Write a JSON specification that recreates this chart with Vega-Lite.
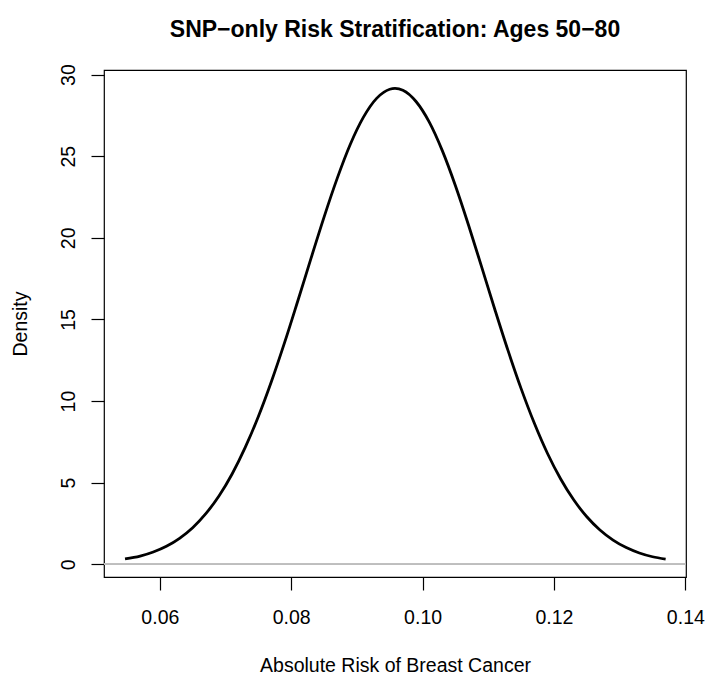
{
  "$schema": "https://vega.github.io/schema/vega-lite/v6.json",
  "autosize": {"type": "none"},
  "padding": {"left": 104, "top": 70, "right": 20, "bottom": 98},
  "width": 582,
  "height": 507,
  "background": "white",
  "title": {
    "text": "SNP−only Risk Stratification: Ages 50−80",
    "font": "Liberation Sans",
    "fontSize": 23,
    "fontWeight": "bold",
    "color": "black",
    "anchor": "middle",
    "frame": "group",
    "baseline": "alphabetic",
    "offset": 4
  },
  "config": {
    "view": {"stroke": "black", "strokeWidth": 1.2},
    "axis": {
      "grid": false,
      "domain": false,
      "tickColor": "black",
      "tickWidth": 1.2,
      "tickSize": 13,
      "labelFont": "Liberation Sans",
      "labelFontSize": 19.5,
      "labelColor": "black",
      "labelFlush": false,
      "labelOverlap": false,
      "labelBound": false,
      "titleFont": "Liberation Sans",
      "titleFontSize": 19.5,
      "titleFontWeight": "normal",
      "titleColor": "black"
    }
  },
  "data": {
    "values": [
      {"risk": 0.0547, "density": 0.33},
      {"risk": 0.057, "density": 0.50},
      {"risk": 0.059, "density": 0.75},
      {"risk": 0.061, "density": 1.10},
      {"risk": 0.063, "density": 1.59},
      {"risk": 0.065, "density": 2.24},
      {"risk": 0.067, "density": 3.10},
      {"risk": 0.069, "density": 4.18},
      {"risk": 0.071, "density": 5.53},
      {"risk": 0.073, "density": 7.16},
      {"risk": 0.075, "density": 9.05},
      {"risk": 0.077, "density": 11.21},
      {"risk": 0.079, "density": 13.59},
      {"risk": 0.081, "density": 16.13},
      {"risk": 0.083, "density": 18.72},
      {"risk": 0.085, "density": 21.27},
      {"risk": 0.087, "density": 23.64},
      {"risk": 0.089, "density": 25.73},
      {"risk": 0.091, "density": 27.39},
      {"risk": 0.093, "density": 28.54},
      {"risk": 0.095, "density": 29.10},
      {"risk": 0.0958, "density": 29.15},
      {"risk": 0.097, "density": 29.04},
      {"risk": 0.099, "density": 28.35},
      {"risk": 0.101, "density": 27.10},
      {"risk": 0.103, "density": 25.34},
      {"risk": 0.105, "density": 23.19},
      {"risk": 0.107, "density": 20.77},
      {"risk": 0.109, "density": 18.20},
      {"risk": 0.111, "density": 15.61},
      {"risk": 0.113, "density": 13.10},
      {"risk": 0.115, "density": 10.76},
      {"risk": 0.117, "density": 8.65},
      {"risk": 0.119, "density": 6.80},
      {"risk": 0.121, "density": 5.24},
      {"risk": 0.123, "density": 3.95},
      {"risk": 0.125, "density": 2.91},
      {"risk": 0.127, "density": 2.10},
      {"risk": 0.129, "density": 1.48},
      {"risk": 0.131, "density": 1.02},
      {"risk": 0.133, "density": 0.69},
      {"risk": 0.135, "density": 0.46},
      {"risk": 0.137, "density": 0.32}
    ]
  },
  "encoding": {
    "x": {
      "field": "risk",
      "type": "quantitative",
      "scale": {"domain": [0.0515, 0.1401], "nice": false, "zero": false},
      "axis": {
        "values": [0.06, 0.08, 0.10, 0.12, 0.14],
        "format": ".2f",
        "labelBaseline": "alphabetic",
        "labelPadding": 33,
        "title": "Absolute Risk of Breast Cancer",
        "titleBaseline": "alphabetic",
        "titleAnchor": "middle",
        "titleX": 291,
        "titleY": 94
      }
    },
    "y": {
      "field": "density",
      "type": "quantitative",
      "scale": {"domain": [-0.78, 30.28], "nice": false, "zero": false},
      "axis": {
        "values": [0, 5, 10, 15, 20, 25, 30],
        "labelAngle": 270,
        "labelAlign": "center",
        "labelBaseline": "alphabetic",
        "labelPadding": 17,
        "title": "Density",
        "titleAngle": 270,
        "titleAlign": "center",
        "titleBaseline": "alphabetic",
        "titleX": -78,
        "titleY": 253.5
      }
    }
  },
  "layer": [
    {
      "mark": {"type": "rule", "color": "#bebebe", "strokeWidth": 1.2},
      "encoding": {"x": null, "y": {"datum": 0}}
    },
    {
      "mark": {"type": "line", "color": "black", "strokeWidth": 2.8, "interpolate": "monotone"}
    }
  ]
}
